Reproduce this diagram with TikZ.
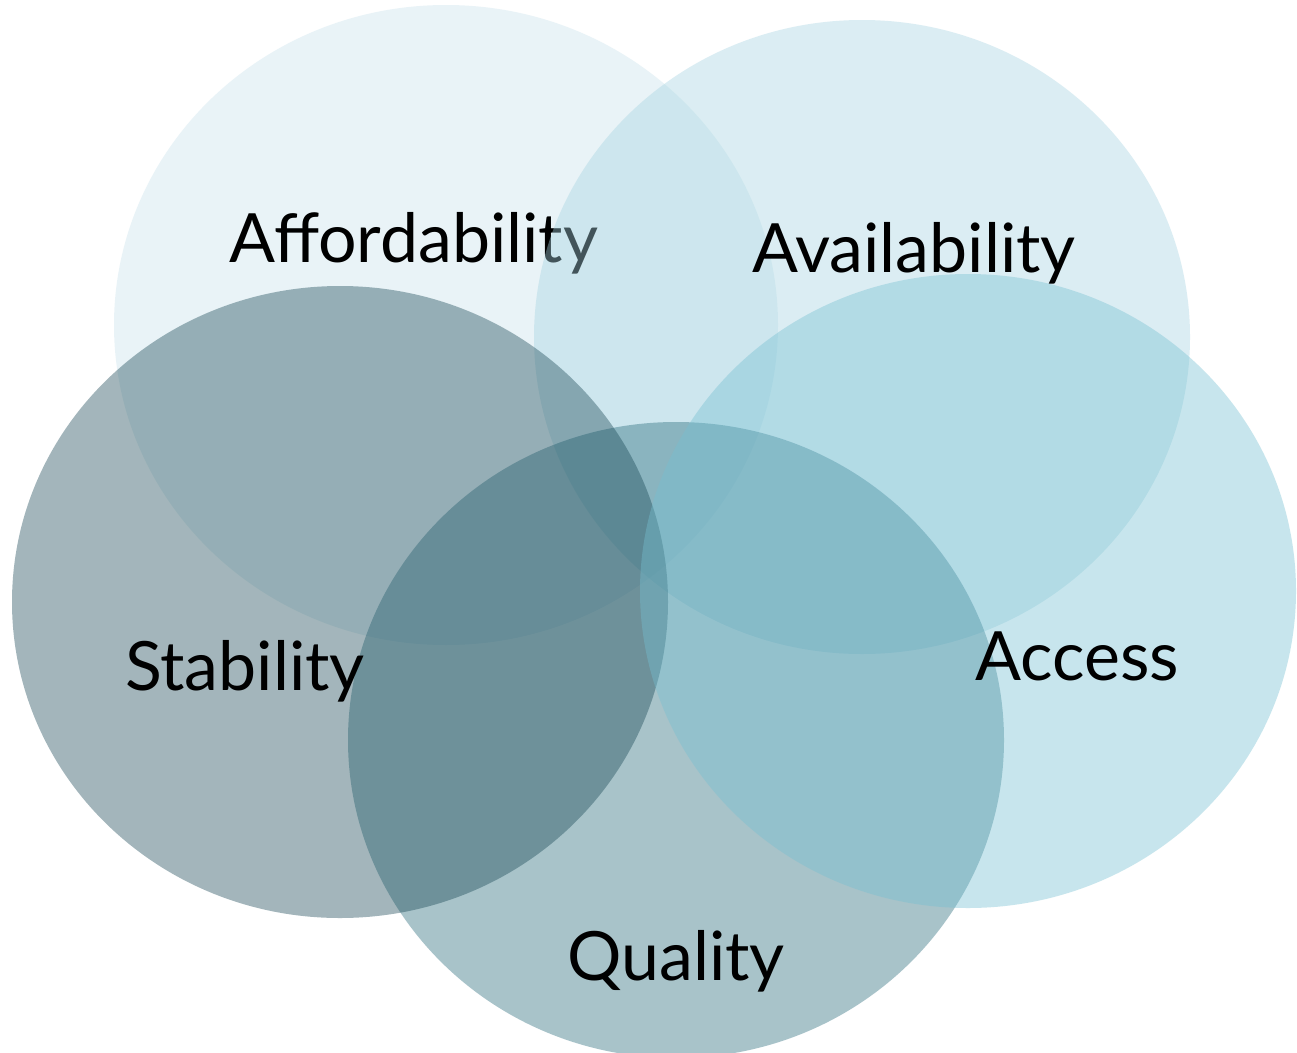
\documentclass[tikz,border=0pt]{standalone}
\usepackage{fontspec}
\setmainfont{Lato}
\definecolor{cAfford}{RGB}{202,227,237}
\definecolor{cAvail}{RGB}{165,212,225}
\definecolor{cStab}{RGB}{25,72,85}
\definecolor{cAccess}{RGB}{117,192,210}
\definecolor{cQual}{RGB}{38,105,122}
\begin{document}
\begin{tikzpicture}[x=1pt,y=-1pt,
  blob/.style={draw=none,fill opacity=0.4},
  lbl/.style={anchor=base,inner sep=0pt,font=\fontsize{68}{72}\selectfont,text=black}]
\useasboundingbox (0,0) rectangle (1297,1052);
\fill[white] (0,0) rectangle (1297,1052);
\fill[cAfford,blob] (446,325) ellipse [x radius=332, y radius=320];
\node[lbl] (aff) at (414,262) {Affordability};
\fill[cAvail,blob] (862,337) ellipse [x radius=328, y radius=317];
\node[lbl] (ava) at (914,272) {Availability};
\fill[cQual,blob] (676,740) ellipse [x radius=328, y radius=318];
\node[lbl] (qua) at (676,980) {Quality};
\fill[cStab,blob] (340,602) ellipse [x radius=328, y radius=316];
\node[lbl] (sta) at (245,690) {Stability};
\fill[cAccess,blob] (968,591) ellipse [x radius=328, y radius=317];
\node[lbl] (acc) at (1077,680) {Access};
\end{tikzpicture}
\end{document}
